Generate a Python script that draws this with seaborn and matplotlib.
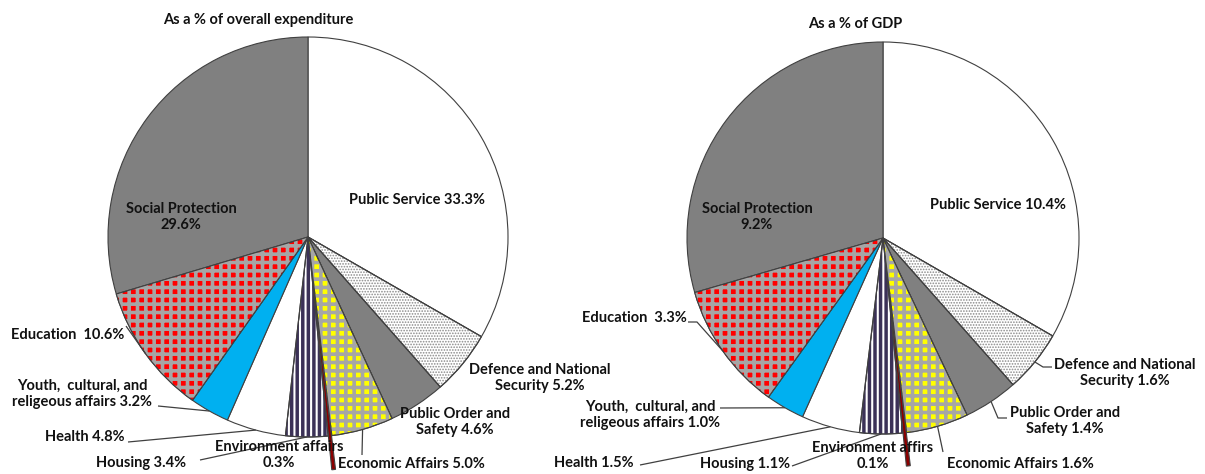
import matplotlib
matplotlib.use("Agg")
import matplotlib.pyplot as plt
import seaborn as sns
import numpy as np
from matplotlib.patches import Wedge

# ---- data -------------------------------------------------------------
categories = [
    "Public Service", "Defence and National Security", "Public Order and Safety",
    "Economic Affairs", "Environment affairs", "Housing", "Health",
    "Youth, cultural, and religeous affairs", "Education", "Social Protection",
]
share_of_expenditure = [33.3, 5.2, 4.6, 5.0, 0.3, 3.4, 4.8, 3.2, 10.6, 29.6]
share_of_gdp = [10.4, 1.6, 1.4, 1.6, 0.1, 1.1, 1.5, 1.0, 3.3, 9.2]

label_templates_left = [
    "Public Service {}", "Defence and National\nSecurity {}", "Public Order and\nSafety {}",
    "Economic Affairs {}", "Environment affairs\n{}", "Housing {}", "Health {}",
    "Youth,  cultural, and\nreligeous affairs {}", "Education  {}", "Social Protection\n{}",
]
label_templates_right = [
    "Public Service {}", "Defence and National\nSecurity {}", "Public Order and\nSafety {}",
    "Economic Affairs {}", "Environment affirs\n{}", "Housing {}", "Health {}",
    "Youth,  cultural, and\nreligeous affairs {}", "Education  {}", "Social Protection\n{}",
]
titles = ["As a % of overall expenditure", "As a % of GDP"]

# ---- styling ----------------------------------------------------------
face_colors = ["#ffffff", "#ffffff", "#808080", "#ffff00", "#8b0000",
               "#ffffff", "#ffffff", "#00b0f0", "#ff0000", "#808080"]
# (hatch, hatch colour, hatch line width in points)
hatches = [None, ("......", "#8a8a8a", 0.8), None, ("++", "#a6a6a6", 2.6), None,
           ("|||", "#3b3157", 2.5), None, None, ("++", "#a6a6a6", 2.6), None]
# outward offset of each slice, as a fraction of the pie radius
explode_frac = [0, 0, 0, 0, 0.17, 0, 0, 0, 0, 0]

sns.set_theme(style="white")
plt.rcParams["font.family"] = ["Lato", "DejaVu Sans"]

W, H = 1205, 474
fig = plt.figure(figsize=(W / 100, H / 100), dpi=100)
ax = fig.add_axes([0, 0, 1, 1])


def Y(py):
    return H - py


edge = "#404040"
txt = dict(fontsize=10.5, fontweight="bold", color="#111111", linespacing=1.2)


def draw_pie(values, center, radius):
    wedges, _ = ax.pie(values, center=center, radius=radius, startangle=90,
                       counterclock=False, colors=face_colors,
                       explode=[f * radius for f in explode_frac],
                       wedgeprops=dict(edgecolor=edge, linewidth=0.8))
    for w, h in zip(wedges, hatches):
        if h is None:
            continue
        pattern, hcol, hlw = h
        with plt.rc_context({"hatch.linewidth": hlw}):
            hw = Wedge(w.center, w.r, w.theta1, w.theta2, facecolor="none",
                       edgecolor=hcol, hatch=pattern, linewidth=0)
        ax.add_patch(hw)
        ax.add_patch(Wedge(w.center, w.r, w.theta1, w.theta2, facecolor="none",
                           edgecolor=edge, linewidth=0.8))
    return wedges


def edge_point(w, frac=1.0):
    ang = np.deg2rad((w.theta1 + w.theta2) / 2)
    cx, cy = w.center
    return cx + w.r * frac * np.cos(ang), cy + w.r * frac * np.sin(ang)


def leader(w, pts, frac=1.0):
    ex, ey = edge_point(w, frac)
    xs = [p[0] for p in pts] + [ex]
    ys = [Y(p[1]) for p in pts] + [ey]
    ax.plot(xs, ys, color=edge, lw=0.9, solid_capstyle="butt")


# ---- left pie ---------------------------------------------------------
wl = draw_pie(share_of_expenditure, (308, Y(237)), 200)
left_pos = [(417, 200), (540, 378), (455, 422), (411, 464), (279, 455),
            (141, 463), (85, 437), (82, 394), (68, 335), (181, 217)]
for tpl, v, (px, py) in zip(label_templates_left, share_of_expenditure, left_pos):
    ax.text(px, Y(py), tpl.format(f"{v:.1f}%"), ha="center", va="center", **txt)
leader(wl[3], [(362, 455)])
leader(wl[5], [(200, 460)])
leader(wl[6], [(128, 442)])
leader(wl[7], [(158, 406)])
leader(wl[8], [(126, 326)])
ax.text(258, Y(20), titles[0], ha="center", va="center", **txt)

# ---- right pie --------------------------------------------------------
wr = draw_pie(share_of_gdp, (883, Y(238)), 196)
right_pos = [(998, 205), (1125, 373), (1065, 421), (1020, 464), (873, 456),
             (745, 464), (594, 463), (650, 415), (634, 318), (757, 217)]
for tpl, v, (px, py) in zip(label_templates_right, share_of_gdp, right_pos):
    ax.text(px, Y(py), tpl.format(f"{v:.1f}%"), ha="center", va="center", **txt)
leader(wr[1], [(1052, 367), (1043, 367)])
leader(wr[2], [(1007, 418), (998, 418)])
leader(wr[3], [(943, 452)])
leader(wr[5], [(792, 466)])
leader(wr[6], [(640, 465)])
leader(wr[7], [(720, 408)])
leader(wr[8], [(688, 322), (697, 322)])
ax.text(855, Y(24), titles[1], ha="center", va="center", **txt)

ax.set_xlim(0, W)
ax.set_ylim(0, H)
ax.set_aspect("auto")
ax.axis("off")
fig.savefig("out.png", dpi=100, facecolor="white")
